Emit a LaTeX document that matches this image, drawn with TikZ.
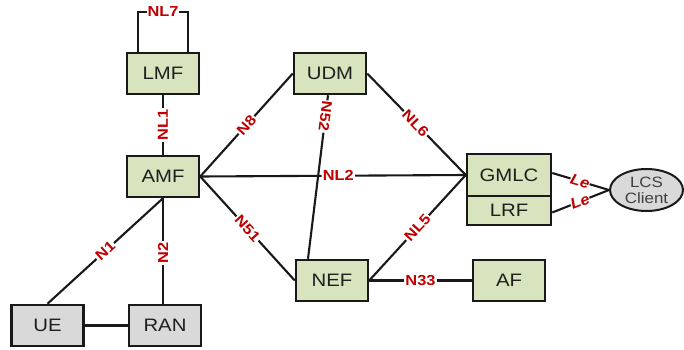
\documentclass[tikz,border=0pt]{standalone}
\usepackage{fontspec}
\setmainfont{Liberation Sans}
\newfontfamily\boxfont[FakeStretch=1.13]{Liberation Sans}
\newfontfamily\labfont[FakeStretch=1.13]{Liberation Sans Bold}
\newfontfamily\labitfont[FakeStretch=1.1]{Liberation Sans Bold Italic}
\usetikzlibrary{shapes.geometric}
\definecolor{nfgreen}{HTML}{D7E4BD}
\definecolor{nfgray}{HTML}{D9D9D9}
\definecolor{ifred}{HTML}{C00000}
\begin{document}
\begin{tikzpicture}[x=1pt,y=-1pt,
  nf/.style={draw=black!90,line width=2.5pt,fill=nfgreen,minimum width=72pt,minimum height=41pt,
    inner sep=0pt,font=\boxfont\fontsize{18}{19}\selectfont,text=black!88},
  term/.style={nf,fill=nfgray},
  link/.style={line width=2.1pt,black!90},
  iflab/.style={fill=white,inner sep=1.2pt,text=ifred,font=\labfont\fontsize{14.5}{15}\selectfont},
  lelab/.style={iflab,inner sep=0.3pt,font=\labitfont\fontsize{15}{16}\selectfont}]
\useasboundingbox (0,0) rectangle (684,350);
\fill[white] (0,0) rectangle (684,350);

% network functions
\node[nf] (LMF) at (163,73.5) {LMF};
\node[nf] (AMF) at (163,176.5) {AMF};
\node[nf] (UDM) at (330,73.5) {UDM};
\node[nf] (NEF) at (332,280.5) {NEF};
\node[nf] (AF)  at (509,280.5) {AF};
\node[nf,minimum width=84pt,minimum height=42pt] (GMLC) at (509,175) {GMLC};
\node[nf,minimum width=84pt,minimum height=29pt] (LRF) at (509,210.5) {LRF};
\node[term] (UE)  at (47.5,325.5) {UE};
\node[term] (RAN) at (165,325.5) {RAN};
\node[ellipse,draw=black!90,line width=2pt,fill=nfgray,minimum width=73pt,minimum height=42pt,
  inner sep=0pt,align=center,text=black!75,font=\boxfont\fontsize{15}{16}\selectfont]
  (LCS) at (646.5,190) {LCS\\Client};

% NL7 self-loop on LMF
\coordinate (l1) at (138,12);
\coordinate (l2) at (188,12);
\draw[link] ([xshift=-25pt]LMF.north) -- (l1) -- node[iflab,inner xsep=0.6pt] {NL7} (l2) -- ([xshift=25pt]LMF.north);

% interfaces
\draw[link] (AMF) -- node[iflab,sloped,pos=0.5] {NL1} (LMF);
\draw[link] (AMF.east) -- node[iflab,sloped,pos=0.5] {N8} (UDM.west);
\draw[link] (AMF.east) -- node[iflab,sloped,pos=0.52] {NL2} (GMLC.west);
\draw[link] (AMF.east) -- node[iflab,sloped,pos=0.5] {N51} (NEF.west);
\draw[link] ([xshift=-2pt]UDM.south) -- node[iflab,sloped,allow upside down,pos=0.13] {N52} ([xshift=-24pt]NEF.north);
\draw[link] (UDM.east) -- node[iflab,sloped,pos=0.49] {NL6} (GMLC.west);
\draw[link] (NEF.east) -- node[iflab,sloped,pos=0.5] {NL5} (GMLC.west);
\draw[link] (NEF.east) -- node[iflab,pos=0.5] {N33} (AF.west);
\draw[link] (UE.north) -- node[iflab,sloped,pos=0.5] {N1} (AMF.south);
\draw[link] (AMF.south |- RAN.north) -- node[iflab,sloped,pos=0.48] {N2} (AMF.south);
\draw[link] (UE.east) -- (RAN.west);
\draw[link] ([yshift=2pt]GMLC.east) -- node[lelab,sloped,pos=0.49] {Le} (LCS.west);
\draw[link] ([yshift=-2pt]LRF.east) -- node[lelab,sloped,pos=0.49] {Le} (LCS.west);
\end{tikzpicture}
\end{document}
